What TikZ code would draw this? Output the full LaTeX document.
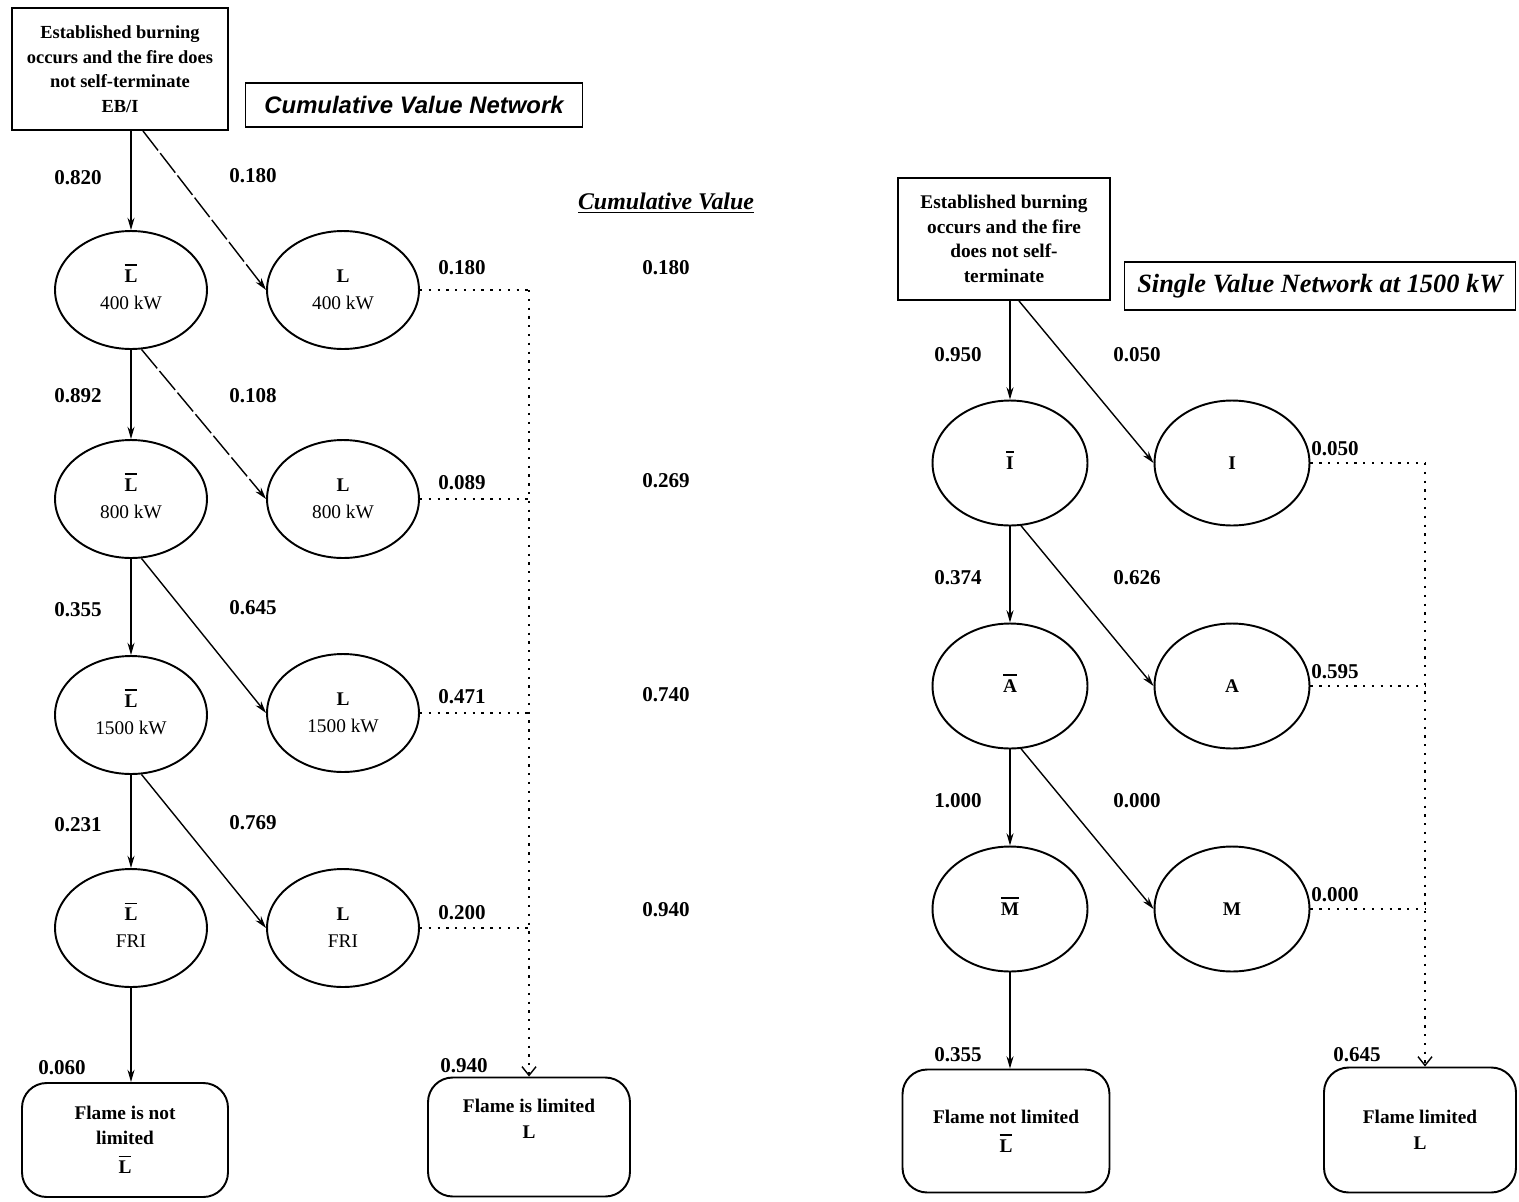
\documentclass[tikz,border=0pt]{standalone}
\usepackage{fontspec}
\setmainfont{Liberation Serif}
\newfontfamily\arialfont{Liberation Sans}
\usetikzlibrary{arrows.meta,shapes.geometric,calc}
\newlength\ovlw
\newcommand{\ovl}[1]{\settowidth{\ovlw}{#1}\makebox[0pt][l]{\raisebox{0.86em}[0pt][0pt]{\rule{\ovlw}{0.9pt}}}#1}
\newcommand{\Lbar}{\ovl{L}}
\begin{document}
\begin{tikzpicture}[x=0.02cm,y=-0.02cm,
  shapeline/.style={draw,line width=1.1pt},
  ovalL/.style={shapeline,ellipse,minimum width=3.04cm,minimum height=2.36cm,inner sep=0pt,align=center,font=\fontsize{11}{15.5}\selectfont},
  ovalR/.style={shapeline,ellipse,minimum width=3.1cm,minimum height=2.5cm,inner sep=0pt,align=center,font=\fontsize{11}{15}\selectfont\bfseries},
  startbox/.style={shapeline,rectangle,align=center,inner sep=2pt,font=\fontsize{10.5}{14}\selectfont\bfseries},
  endbox/.style={shapeline,rectangle,rounded corners=14pt,align=center,inner sep=2pt,font=\fontsize{11}{14.5}\selectfont\bfseries},
  titlebox/.style={draw,line width=0.8pt,rectangle,inner sep=2pt},
  num/.style={font=\fontsize{12}{14}\selectfont\bfseries,inner sep=1pt},
  edge/.style={line width=0.8pt,-{Stealth[length=7pt,width=4pt]}},
  dedge/.style={edge,dash pattern=on 14pt off 2pt},
  dots/.style={line width=1.3pt,dash pattern=on 1.3pt off 3.7pt},
  dotarrow/.style={dots,-{Straight Barb[length=5pt,width=8pt,line width=0.8pt]}}
]
\useasboundingbox (0,0) rectangle (1519,1201);
\fill[white] (0,0) rectangle (1519,1201);

% ================= LEFT NETWORK =================
\node[startbox,minimum width=4.32cm,minimum height=2.44cm] (ltop) at (120,69)
  {Established burning\\occurs and the fire does\\not self-terminate\\EB/I};
\node[titlebox,minimum width=6.74cm,minimum height=0.88cm,font=\arialfont\fontsize{13.6}{15}\selectfont\bfseries\itshape] (ltitle) at (414,105) {Cumulative Value Network};

\node[ovalL] (lb1) at (131,290) {\textbf{\Lbar}\\400 kW};
\node[ovalL] (lr1) at (343,290) {\textbf{L}\\400 kW};
\node[ovalL] (lb2) at (131,499) {\textbf{\Lbar}\\800 kW};
\node[ovalL] (lr2) at (343,499) {\textbf{L}\\800 kW};
\node[ovalL] (lb3) at (131,715) {\textbf{\Lbar}\\1500 kW};
\node[ovalL] (lr3) at (343,713) {\textbf{L}\\1500 kW};
\node[ovalL] (lb4) at (131,928) {\textbf{\Lbar}\\FRI};
\node[ovalL] (lr4) at (343,928) {\textbf{L}\\FRI};

\node[endbox,minimum width=4.12cm,minimum height=2.28cm] (lend1) at (125,1140) {Flame is not\\limited\\[2pt]\Lbar};
\node[endbox,minimum width=4.04cm,minimum height=2.38cm] (lend2) at (529,1137) {Flame is limited\\L\\[6pt]};

% edges
\draw[edge] (lb1.north |- ltop.south) -- (lb1.north);
\draw[dedge] ([xshift=0.46cm]ltop.south) -- (lr1.west);
\draw[edge] (lb1.south) -- (lb2.north);
\draw[dedge] (lb1.-80) -- (lr2.west);
\draw[edge] (lb2.south) -- (lb3.north);
\draw[edge] (lb2.-80) -- (lr3.west);
\draw[edge] (lb3.south) -- (lb4.north);
\draw[edge] (lb3.-80) -- (lr4.west);
\draw[edge] (lb4.south) -- (lb4.south |- lend1.north);

% dotted collectors
\coordinate (lcol) at (lend2.north);
\draw[dots] (lr1.east) -- (lr1.east -| lcol);
\draw[dots] (lr2.east) -- (lr2.east -| lcol);
\draw[dots] (lr3.east) -- (lr3.east -| lcol);
\draw[dots] (lr4.east) -- (lr4.east -| lcol);
\draw[dotarrow] (lr1.east -| lcol) -- (lend2.north);

% labels
\node[num] (n1) at (78,178) {0.820};
\node[num] (n2) at (253,176) {0.180};
\node[num] (n3) at (78,396) {0.892};
\node[num] (n4) at (253,396) {0.108};
\node[num] (n5) at (78,610) {0.355};
\node[num] (n6) at (253,608) {0.645};
\node[num] (n7) at (78,825) {0.231};
\node[num] (n8) at (253,823) {0.769};
\node[num] (n9) at (62,1068) {0.060};
\node[num] (n10) at (464,1066) {0.940};
\node[num] (m1) at (462,268) {0.180};
\node[num] (m2) at (462,483) {0.089};
\node[num] (m3) at (462,697) {0.471};
\node[num] (m4) at (462,913) {0.200};
\node[font=\fontsize{13.6}{15}\selectfont\bfseries\itshape] (cvhead) at (666,203) {\underline{Cumulative Value}};
\node[num] (c1) at (666,268) {0.180};
\node[num] (c2) at (666,481) {0.269};
\node[num] (c3) at (666,695) {0.740};
\node[num] (c4) at (666,910) {0.940};

% ================= RIGHT NETWORK =================
\node[startbox,minimum width=4.24cm,minimum height=2.44cm,font=\fontsize{11}{14}\selectfont\bfseries] (rtop) at (1004,239)
  {Established burning\\occurs and the fire\\does not self-\\terminate};
\node[titlebox,minimum width=7.82cm,minimum height=0.96cm,font=\fontsize{15}{17}\selectfont\bfseries\itshape] (rtitle) at (1320,286) {Single Value Network at 1500 kW};

\node[ovalR] (rb1) at (1010,463) {\ovl{I}};
\node[ovalR] (rr1) at (1232,463) {I};
\node[ovalR] (rb2) at (1010,686) {\ovl{A}};
\node[ovalR] (rr2) at (1232,686) {A};
\node[ovalR] (rb3) at (1010,909) {\ovl{M}};
\node[ovalR] (rr3) at (1232,909) {M};

\node[endbox,minimum width=4.14cm,minimum height=2.46cm] (rend1) at (1006,1131) {Flame not limited\\[2pt]\Lbar};
\node[endbox,minimum width=3.84cm,minimum height=2.5cm] (rend2) at (1420,1130) {Flame limited\\L};

\draw[edge] (rb1.north |- rtop.south) -- (rb1.north);
\draw[edge] ([xshift=0.3cm]rtop.south) -- (rr1.west);
\draw[edge] (rb1.south) -- (rb2.north);
\draw[edge] (rb1.-80) -- (rr2.west);
\draw[edge] (rb2.south) -- (rb3.north);
\draw[edge] (rb2.-80) -- (rr3.west);
\draw[edge] (rb3.south) -- (rb3.south |- rend1.north);

\coordinate (rcol) at ([xshift=0.1cm]rend2.north);
\draw[dots] (rr1.east) -- (rr1.east -| rcol);
\draw[dots] (rr2.east) -- (rr2.east -| rcol);
\draw[dots] (rr3.east) -- (rr3.east -| rcol);
\draw[dotarrow] (rr1.east -| rcol) -- (rcol |- rend2.north);

\node[num] (p1) at (958,355) {0.950};
\node[num] (p2) at (1137,355) {0.050};
\node[num] (p3) at (958,578) {0.374};
\node[num] (p4) at (1137,578) {0.626};
\node[num] (p5) at (958,801) {1.000};
\node[num] (p6) at (1137,801) {0.000};
\node[num] (q1) at (1335,449) {0.050};
\node[num] (q2) at (1335,672) {0.595};
\node[num] (q3) at (1335,895) {0.000};
\node[num] (p7) at (958,1055) {0.355};
\node[num] (p8) at (1357,1055) {0.645};
\end{tikzpicture}
\end{document}
